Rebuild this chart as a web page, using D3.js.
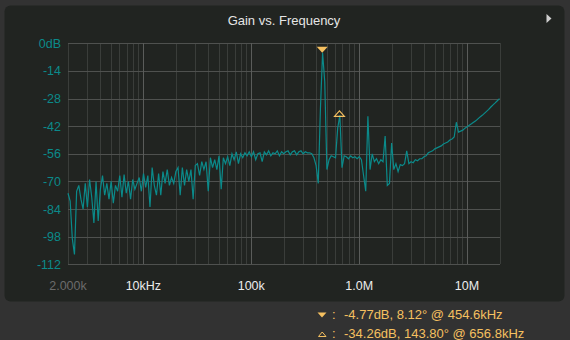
<!DOCTYPE html>
<html>
<head>
<meta charset="utf-8">
<script src="https://cdn.jsdelivr.net/npm/d3@7"></script>
<style>
  html, body { margin: 0; padding: 0; background: #323232; }
  svg { display: block; font-family: "Liberation Sans", Arial, sans-serif; }
</style>
</head>
<body>
<svg width="570" height="340"></svg>
<script>
// sweep setup (log sweep, 50 points per decade from 2 kHz)
const sweepStart = 2000;
const pointsPerDecade = 50;

// measured gain, dB, one value per sweep point
const gainDb = [
  -76, -80, -99, -107, -75, -72, -79, -84, -71, -83,
  -69, -78, -91, -70, -90, -74, -67, -77, -71, -79,
  -70, -81, -72, -75, -67, -78, -66.5, -76, -70, -79,
  -69, -74, -71, -68, -75, -66,
  -73, -67, -83, -63, -72, -77, -66, -77, -65, -71,
  -64, -72, -68, -71, -65, -63, -77, -63, -72, -64,
  -70, -64, -79, -62, -61, -67, -60, -64, -60, -75,
  -58, -63, -59, -64, -57, -74, -58, -61, -57.5, -62,
  -56, -59, -55, -61, -56, -58, -55.5, -57, -55, -57.5,
  -55, -59, -56, -55.5, -60, -55, -56.5, -54.5, -57, -55.5,
  -56, -54.5, -57, -55, -56, -55, -54.5, -56.5, -55, -54.5,
  -56.5, -55, -54.5, -56, -55, -55.5, -55.5, -56, -58, -62,
  -71, -33,
  -4.77, -19.5, -64, -59, -57, -57.5, -58, -43, -36.5, -63,
  -57, -57.5, -58.5, -57, -58, -57.5, -58.5, -57.5, -59, -67,
  -75, -37, -64, -56,
  -60, -58.5, -61, -59, -60, -47, -72, -71, -50.5, -64,
  -61, -65, -61.5, -62, -61, -54.5, -61, -60, -60.5, -59,
  -59.5, -58.5, -58.5, -57.5, -57, -55.5, -55, -54.5, -53.5, -53,
  -52.5, -52, -51, -50.5, -50, -49, -48.5, -47.5, -40, -45,
  -44.5, -44, -43, -42.3, -41.5, -40.8, -40, -39.3, -38.3, -37.3,
  -36.5, -35.5, -34.5, -33.5, -32.3, -31.2, -30.2, -29.1, -28
];

// axis ticks
const yTicks = [0, -14, -28, -42, -56, -70, -84, -98, -112];
const yLabels = ["0dB", "-14", "-28", "-42", "-56", "-70", "-84", "-98", "-112"];
const xTicks = [2000, 1e4, 1e5, 1e6, 1e7];
const xLabels = ["2.000k", "10kHz", "100k", "1.0M", "10M"];

// cursors
const markerFreq = [454.6e3, 656.8e3];
const markerGain = [-4.77, -34.26];
const markerText = ["-4.77dB, 8.12\u00b0 @ 454.6kHz", "-34.26dB, 143.80\u00b0 @ 656.8kHz"];

const svg = d3.select("svg");
const teal = "#0b8a8a";
const amber = "#f5c060";

// panel
svg.append("rect")
  .attr("x", 4.5).attr("y", 5.5)
  .attr("width", 560).attr("height", 296)
  .attr("rx", 6)
  .attr("fill", "#212421");

svg.append("text")
  .attr("x", 284).attr("y", 25)
  .attr("text-anchor", "middle")
  .attr("font-size", 13)
  .attr("fill", "#e6e6e6")
  .text("Gain vs. Frequency");

svg.append("path")
  .attr("d", "M546.5,14 L551.5,18.5 L546.5,23 Z")
  .attr("fill", "#cfcfcf");

const x = d3.scaleLog().domain([2000, 2e7]).range([68, 499.5]);
const y = d3.scaleLinear().domain([-112, 0]).range([264.3, 43.3]);

const data = gainDb.map((g, i) => ({ f: sweepStart * Math.pow(10, i / pointsPerDecade), g: g }));

// grid
const grid = svg.append("g").attr("shape-rendering", "crispEdges");
const isDecade = d => Math.abs(Math.log10(d) - Math.round(Math.log10(d))) < 1e-9;

grid.selectAll(".minor")
  .data(x.ticks().filter(d => !isDecade(d)))
  .enter().append("line")
  .attr("x1", d => Math.round(x(d)) + 0.5).attr("x2", d => Math.round(x(d)) + 0.5)
  .attr("y1", y(0)).attr("y2", y(-112))
  .attr("stroke", "#3a3d3a");

grid.selectAll(".hline")
  .data(yTicks)
  .enter().append("line")
  .attr("x1", x(2000)).attr("x2", x(2e7))
  .attr("y1", d => Math.round(y(d)) + 0.5).attr("y2", d => Math.round(y(d)) + 0.5)
  .attr("stroke", "#4f514f");

grid.selectAll(".major")
  .data(x.ticks().filter(d => isDecade(d)))
  .enter().append("line")
  .attr("x1", d => Math.round(x(d)) + 0.5).attr("x2", d => Math.round(x(d)) + 0.5)
  .attr("y1", y(0)).attr("y2", y(-112))
  .attr("stroke", "#5a5c5a");

// y labels
svg.append("g").selectAll("text")
  .data(yTicks)
  .enter().append("text")
  .attr("x", 61)
  .attr("y", d => y(d) + 4.5)
  .attr("text-anchor", "end")
  .attr("font-size", 12.5)
  .attr("fill", teal)
  .text((d, i) => yLabels[i]);

// x labels
svg.append("g").selectAll("text")
  .data(xTicks)
  .enter().append("text")
  .attr("x", d => x(d))
  .attr("y", 289.5)
  .attr("text-anchor", "middle")
  .attr("font-size", 12.5)
  .attr("fill", (d, i) => i === 0 ? "#6b6b6b" : "#ececec")
  .text((d, i) => xLabels[i]);

// trace
svg.append("path")
  .datum(data)
  .attr("fill", "none")
  .attr("stroke", teal)
  .attr("stroke-width", 1.2)
  .attr("d", d3.line().x(d => x(d.f)).y(d => y(d.g)));

// cursor markers on the plot
const mx0 = x(markerFreq[0]), my0 = y(markerGain[0]);
svg.append("path")
  .attr("d", `M${mx0 - 5.5},${my0 - 6} L${mx0 + 5.5},${my0 - 6} L${mx0},${my0} Z`)
  .attr("fill", amber);

const mx1 = x(markerFreq[1]), my1 = y(markerGain[1]);
svg.append("path")
  .attr("d", `M${mx1 - 5},${my1 + 5.5} L${mx1 + 5},${my1 + 5.5} L${mx1},${my1} Z`)
  .attr("fill", "none")
  .attr("stroke", amber)
  .attr("stroke-width", 1.1);

// legend below panel
const legY = [319.3, 338.3];
svg.append("path")
  .attr("d", "M317.5,312.5 L326.5,312.5 L322,317.5 Z")
  .attr("fill", amber);
svg.append("path")
  .attr("d", "M318.5,336.5 L326,336.5 L322.2,332 Z")
  .attr("fill", "none")
  .attr("stroke", amber)
  .attr("stroke-width", 1);

const leg = svg.append("g").attr("font-size", 13).attr("fill", amber);
leg.selectAll(".colon")
  .data(legY)
  .enter().append("text")
  .attr("x", 332).attr("y", d => d)
  .text(":");
leg.selectAll(".val")
  .data(markerText)
  .enter().append("text")
  .attr("x", 344).attr("y", (d, i) => legY[i])
  .text(d => d);
</script>
</body>
</html>
